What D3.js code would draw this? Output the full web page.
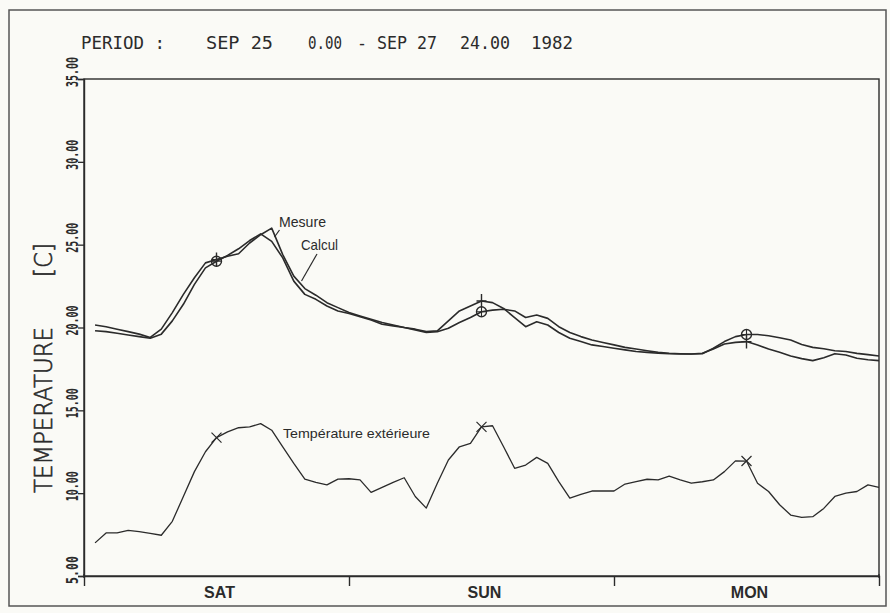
<!DOCTYPE html>
<html><head><meta charset="utf-8">
<script src="https://cdn.jsdelivr.net/npm/d3@7"></script>
<style>body{margin:0;background:#fafaf6;}svg{display:block;}</style>
</head><body>
<svg id="c" width="890" height="613"></svg>
<script>
// ---- data (hours 1..72, Sep 25 0:00 -> Sep 27 24:00, 1982) ----
const hours = d3.range(1, 73);
const mesure = [20.15,20.05,19.9,19.75,19.6,19.4,19.9,20.9,22.0,23.0,23.9,24.1,
  24.3,24.45,25.1,25.6,26.0,24.4,23.1,22.35,21.95,21.5,21.2,20.9,
  20.7,20.5,20.3,20.15,20.0,19.9,19.75,19.8,20.4,21.0,21.3,21.6,
  21.5,21.15,20.6,20.05,20.35,20.15,19.7,19.35,19.15,18.95,18.85,18.75,
  18.65,18.55,18.5,18.45,18.42,18.4,18.4,18.45,18.7,19.0,19.1,19.15,
  18.95,18.7,18.5,18.28,18.12,18.0,18.18,18.42,18.34,18.14,18.05,18.0];
const calcul = [19.8,19.75,19.65,19.55,19.45,19.35,19.6,20.4,21.4,22.6,23.6,24.0,
  24.35,24.75,25.25,25.65,25.2,24.2,22.8,22.0,21.7,21.3,21.0,20.85,
  20.65,20.45,20.2,20.1,20.0,19.85,19.7,19.75,19.95,20.3,20.6,20.95,
  21.05,21.1,21.0,20.6,20.75,20.55,20.05,19.7,19.45,19.25,19.1,18.95,
  18.8,18.7,18.6,18.5,18.45,18.42,18.4,18.42,18.75,19.15,19.45,19.58,
  19.58,19.5,19.38,19.24,18.98,18.8,18.72,18.6,18.55,18.44,18.36,18.28];
const exterieur = [7.0,7.6,7.6,7.75,7.68,7.57,7.46,8.3,9.8,11.3,12.5,13.35,
  13.7,13.95,14.0,14.2,13.8,12.8,11.8,10.85,10.65,10.5,10.85,10.87,
  10.8,10.05,10.35,10.65,10.93,9.8,9.1,10.6,12.0,12.8,13.0,14.0,
  14.07,12.8,11.5,11.7,12.16,11.8,10.7,9.7,9.93,10.13,10.13,10.13,
  10.55,10.69,10.84,10.8,11.03,10.8,10.6,10.69,10.8,11.3,11.95,11.94,
  10.6,10.1,9.3,8.68,8.54,8.58,9.08,9.8,10.0,10.1,10.5,10.35];
const markerHours = [12, 36, 60];
const yTicks = [5, 10, 15, 20, 25, 30, 35];
const dayLabels = ["SAT", "SUN", "MON"];
const dayNoon = [12, 36, 60];
const dayBounds = [24, 48];
const titleParts = ["PERIOD :", "SEP 25", "0.00", "- SEP 27", "24.00", "1982"];
const yTitle = ["TEMPERATURE", "[C]"];
const seriesNames = ["Mesure", "Calcul", "Température extérieure"];

// ---- layout ----
const svg = d3.select("#c");
const ink = "#2b2b2b";
const x = d3.scaleLinear().domain([0, 72]).range([84, 879]);
const y = d3.scaleLinear().domain([5, 35]).range([576, 79]);

svg.append("rect").attr("width", 890).attr("height", 613).attr("fill", "#fafaf6");
// outer frame
svg.append("rect").attr("x", 9).attr("y", 10).attr("width", 877).attr("height", 596)
  .attr("fill", "none").attr("stroke", "#555").attr("stroke-width", 1.5);

// title
const titleX = [81, 206, 308, 357, 460, 531];
const titleW = [84, 67, 34, 80, 50, 42];
svg.selectAll("text.title").data(titleParts).join("text").attr("class", "title")
  .attr("x", (d, i) => titleX[i]).attr("y", 49)
  .attr("font-family", "DejaVu Sans Mono").attr("font-size", 18)
  .attr("textLength", (d, i) => titleW[i]).attr("lengthAdjust", "spacingAndGlyphs")
  .attr("fill", ink).style("white-space", "pre").text(d => d);

// plot box
svg.append("rect").attr("x", x(0)).attr("y", y(35)).attr("width", x(72) - x(0)).attr("height", y(5) - y(35))
  .attr("fill", "none").attr("stroke", ink).attr("stroke-width", 1.4);

// y axis ticks
const yAxis = d3.axisLeft(y).tickValues(yTicks).tickSize(6).tickFormat("");
const gy = svg.append("g").attr("transform", `translate(${x(0)},0)`).call(yAxis);
gy.select(".domain").attr("stroke", ink).attr("stroke-width", 1.4);
gy.selectAll(".tick line").attr("stroke", ink).attr("stroke-width", 1.3);
svg.selectAll("text.ytl").data(yTicks).join("text").attr("class", "ytl")
  .attr("transform", d => `translate(78,${y(d) + 8}) rotate(-90)`)
  .attr("font-family", "DejaVu Sans Mono").attr("font-weight", "bold").attr("font-size", 16.5)
  .attr("textLength", d => d < 10 ? 28 : 30).attr("lengthAdjust", "spacingAndGlyphs")
  .attr("fill", ink).text(d => d3.format(".2f")(d));

// y title
[[yTitle[0], 493, 166], [yTitle[1], 277, 34]].forEach(([t, ty, len]) => {
  svg.append("text").attr("transform", `translate(52,${ty}) rotate(-90)`)
    .attr("font-family", "DejaVu Sans").attr("font-weight", 200).attr("font-size", 25)
    .attr("textLength", len).attr("lengthAdjust", "spacingAndGlyphs")
    .attr("fill", ink).attr("stroke", ink).attr("stroke-width", 0.6).text(t);
});

// x axis
const xAxis = d3.axisBottom(x).tickValues(dayBounds).tickSize(10).tickFormat("");
const gx = svg.append("g").attr("transform", `translate(0,${y(5)})`).call(xAxis);
gx.select(".domain").attr("stroke", ink).attr("stroke-width", 1.4);
gx.selectAll(".tick line").attr("stroke", ink).attr("stroke-width", 1.4);
[0, 72].forEach(h => svg.append("line").attr("x1", x(h)).attr("x2", x(h))
  .attr("y1", y(5) - 2).attr("y2", y(5) + 2).attr("stroke", ink).attr("stroke-width", 1.3));
svg.selectAll("text.day").data(dayLabels).join("text").attr("class", "day")
  .attr("x", (d, i) => x(dayNoon[i]) + 3).attr("y", 598).attr("text-anchor", "middle")
  .attr("font-family", "Liberation Sans").attr("font-weight", "bold").attr("font-size", 16)
  .attr("fill", ink).text(d => d);

// lines
const line = d3.line().x((d, i) => x(hours[i])).y(d => y(d));
[[mesure, 1.6], [calcul, 1.6], [exterieur, 1.3]].forEach(([s, w]) => {
  svg.append("path").datum(s).attr("d", line).attr("fill", "none")
    .attr("stroke", ink).attr("stroke-width", w).attr("stroke-linejoin", "round");
});

// markers
markerHours.forEach(h => {
  const i = hours.indexOf(h);
  const mx = x(h), my = y(mesure[i]);
  svg.append("path").attr("d", `M${mx},${my - 7}V${my + 7}M${mx - 5},${my}H${mx + 5}`)
    .attr("stroke", ink).attr("stroke-width", 1.4).attr("fill", "none");
  const cx = x(h), cy = y(calcul[i]);
  svg.append("circle").attr("cx", cx).attr("cy", cy).attr("r", 5)
    .attr("fill", "none").attr("stroke", ink).attr("stroke-width", 1.4);
  svg.append("path").attr("d", `M${cx},${cy - 5}V${cy + 5}M${cx - 5},${cy}H${cx + 5}`)
    .attr("stroke", ink).attr("stroke-width", 1.1);
  const ex = x(h), ey = y(exterieur[i]);
  svg.append("path").attr("d", `M${ex - 5},${ey - 5}L${ex + 5},${ey + 5}M${ex - 5},${ey + 5}L${ex + 5},${ey - 5}`)
    .attr("stroke", ink).attr("stroke-width", 1.2);
});

// labels with leaders
svg.append("text").attr("x", 279).attr("y", 227).attr("font-family", "Liberation Sans")
  .attr("font-size", 15).attr("textLength", 47).attr("lengthAdjust", "spacingAndGlyphs")
  .attr("fill", ink).text(seriesNames[0]);
svg.append("line").attr("x1", 279.5).attr("y1", 230).attr("x2", 274.5).attr("y2", 237)
  .attr("stroke", ink).attr("stroke-width", 1.2);
svg.append("text").attr("x", 301).attr("y", 250).attr("font-family", "Liberation Sans")
  .attr("font-size", 15).attr("textLength", 37).attr("lengthAdjust", "spacingAndGlyphs")
  .attr("fill", ink).text(seriesNames[1]);
svg.append("line").attr("x1", 317).attr("y1", 254).attr("x2", 301.5).attr("y2", 281)
  .attr("stroke", ink).attr("stroke-width", 1.2);
svg.append("text").attr("x", 283).attr("y", 438).attr("font-family", "Liberation Sans")
  .attr("font-size", 13.5).attr("textLength", 147).attr("lengthAdjust", "spacingAndGlyphs")
  .attr("fill", ink).text(seriesNames[2]);
</script>
</body></html>
